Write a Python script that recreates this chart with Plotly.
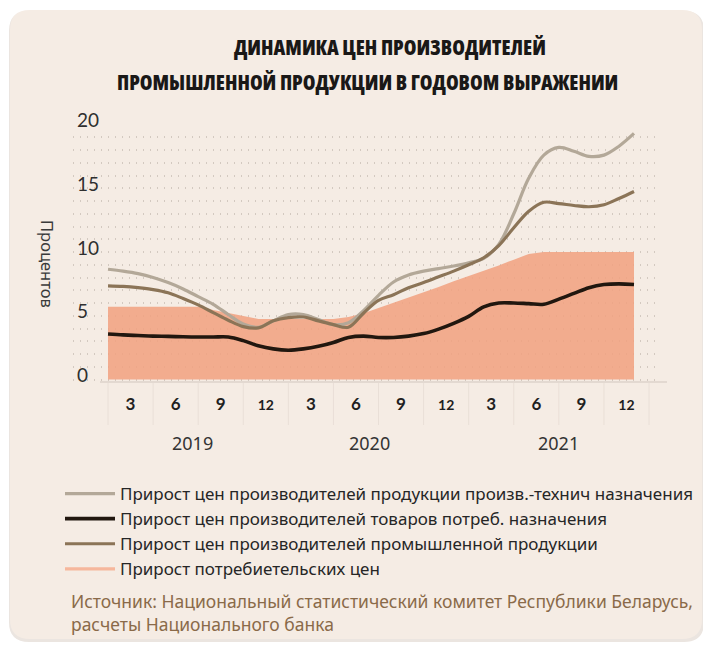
import plotly.graph_objects as go

# ---------------- data (monthly, Jan 2019 .. Dec 2021) ----------------
month = list(range(1, 37))
ppi_tech = [8.65, 8.5, 8.3, 8.0, 7.6, 7.1, 6.5, 5.9, 5.1, 4.35, 4.1, 4.6,
            5.1, 5.1, 4.7, 4.3, 4.45, 5.4, 6.6, 7.65, 8.2, 8.5, 8.7, 8.9,
            9.15, 9.5, 10.6, 13.0, 15.8, 17.6, 18.2, 17.9, 17.5, 17.6, 18.3, 19.3]
ppi_cons = [3.57, 3.5, 3.45, 3.4, 3.38, 3.35, 3.33, 3.33, 3.33, 3.05, 2.65, 2.4,
            2.3, 2.4, 2.6, 2.9, 3.3, 3.4, 3.3, 3.3, 3.4, 3.6, 3.95, 4.4,
            4.95, 5.7, 6.0, 6.0, 5.95, 5.9, 6.3, 6.75, 7.2, 7.45, 7.5, 7.45]
ppi_total = [7.35, 7.3, 7.2, 7.05, 6.8, 6.35, 5.85, 5.25, 4.65, 4.15, 4.05, 4.6,
             4.85, 4.9, 4.6, 4.3, 4.1, 5.2, 6.2, 6.65, 7.2, 7.6, 8.05, 8.5,
             9.0, 9.55, 10.5, 11.9, 13.2, 13.9, 13.8, 13.65, 13.55, 13.7, 14.2, 14.75]
cpi = [5.7, 5.7, 5.7, 5.7, 5.7, 5.7, 5.7, 5.45, 5.2, 4.95, 4.75, 4.75,
       4.75, 4.75, 4.75, 4.75, 4.9, 5.2, 5.6, 6.0, 6.4, 6.85, 7.25, 7.7,
       8.1, 8.5, 8.95, 9.4, 9.85, 10.0, 10.0, 10.0, 10.0, 10.0, 10.0, 10.0]

quarter_labels = ["3", "6", "9", "12"] * 3
years = ["2019", "2020", "2021"]
y_ticks = [0, 5, 10, 15, 20]

series_names = [
    "Прирост цен производителей продукции произв.-технич назначения",
    "Прирост цен производителей товаров потреб. назначения",
    "Прирост цен производителей промышленной продукции",
    "Прирост потребиетельских цен",
]
title_lines = ["ДИНАМИКА ЦЕН ПРОИЗВОДИТЕЛЕЙ",
               "ПРОМЫШЛЕННОЙ ПРОДУКЦИИ В ГОДОВОМ ВЫРАЖЕНИИ"]
source_lines = ["Источник: Национальный статистический комитет Республики Беларусь,",
                "расчеты Национального банка"]
y_title = "Процентов"

# ---------------- layout geometry ----------------
# the page body has an 8px margin, so the figure is drawn 8px smaller
OFF = 8
W, H = 711 - OFF, 649 - OFF
L, R, T, B = 73 - OFF, 51, 124 - OFF, 267
PW, PH = W - L - R, H - T - B


def pxx(x):
    """reference-image pixel x -> paper x"""
    return (x - OFF - L) / PW


def pxy(y):
    """reference-image pixel y -> paper y"""
    return (H - B - (y - OFF)) / PH


def rounded(x0, y0, x1, y1, r):
    pts = [("M", x0 + r, y0), ("L", x1 - r, y0), ("Q", x1, y0, x1, y0 + r),
           ("L", x1, y1 - r), ("Q", x1, y1, x1 - r, y1), ("L", x0 + r, y1),
           ("Q", x0, y1, x0, y1 - r), ("L", x0, y0 + r), ("Q", x0, y0, x0 + r, y0)]
    s = ""
    for p in pts:
        coords = p[1:]
        parts = [f"{pxx(coords[i]):.5f},{pxy(coords[i + 1]):.5f}"
                 for i in range(0, len(coords), 2)]
        s += p[0] + " " + " ".join(parts) + " "
    return s + "Z"


BG = "#f5ece4"
FONT = "Noto Sans, Open Sans, sans-serif"
TITLE_FONT = dict(family="Open Sans", size=20.5, color="#1a1817", weight=800)

fig = go.Figure()

# CPI filled area
fig.add_trace(go.Scatter(
    x=month, y=cpi, mode="lines", fill="tozeroy",
    fillcolor="rgba(241,161,128,0.86)", line=dict(width=0, color="rgba(0,0,0,0)"),
    showlegend=False, hoverinfo="skip"))

fig.add_trace(go.Scatter(
    x=month, y=ppi_tech, mode="lines", name=series_names[0], legendrank=1,
    line=dict(color="#b3a898", width=3.2, shape="spline", smoothing=1.0)))
fig.add_trace(go.Scatter(
    x=month, y=ppi_total, mode="lines", name=series_names[2], legendrank=3,
    line=dict(color="#8b7457", width=3.2, shape="spline", smoothing=1.0)))
fig.add_trace(go.Scatter(
    x=month, y=ppi_cons, mode="lines", name=series_names[1], legendrank=2,
    line=dict(color="#21170f", width=3.6, shape="spline", smoothing=1.0)))
# legend entry for CPI
fig.add_trace(go.Scatter(
    x=[None], y=[None], mode="lines", name=series_names[3], legendrank=4,
    line=dict(color="#f6b79c", width=3.2)))

shapes = [
    dict(type="path", xref="paper", yref="paper", layer="below",
         path=rounded(9, 11, 704, 642, 20), fillcolor="#ebe5e0", line=dict(width=0)),
    dict(type="path", xref="paper", yref="paper", layer="below",
         path=rounded(10, 10, 702, 639, 20), fillcolor=BG, line=dict(width=0)),
    dict(type="line", xref="paper", yref="paper", x0=pxx(100), x1=pxx(667),
         y0=0, y1=0, line=dict(color="#ddd3cb", width=1.5)),
]
# vertical separators in the quarter label band
for k in range(13):
    xv = 1 + 3 * k
    shapes.append(dict(type="line", xref="x", yref="paper", x0=xv, x1=xv,
                       y0=pxy(383), y1=pxy(425),
                       line=dict(color="#e9dfd7", width=1)))

annotations = [
    dict(text=f"<span style='font-stretch:75%'>{title_lines[0]}</span>",
         xref="paper", yref="paper",
         x=pxx(390), y=pxy(47), showarrow=False, xanchor="center", yanchor="middle",
         font=TITLE_FONT),
    dict(text=f"<span style='font-stretch:75%'>{title_lines[1]}</span>",
         xref="paper", yref="paper",
         x=pxx(368), y=pxy(82), showarrow=False, xanchor="center", yanchor="middle",
         font=TITLE_FONT),
    dict(text=y_title, xref="paper", yref="paper", x=pxx(48), y=pxy(264),
         showarrow=False, textangle=90, xanchor="center", yanchor="middle",
         font=dict(family=FONT, size=16.5, color="#3a3a3a")),
    dict(text=source_lines[0] + "<br>" + source_lines[1], xref="paper", yref="paper",
         x=pxx(69), y=pxy(612), showarrow=False, xanchor="left", yanchor="middle",
         align="left",
         font=dict(family=FONT, size=17.5, color="#8a6a49")),
]
year_x = [6.6, 18.4, 31.0]
for yr, xv in zip(years, year_x):
    annotations.append(dict(text=yr, xref="x", yref="paper", x=xv, y=pxy(443),
                            showarrow=False, xanchor="center", yanchor="middle",
                            font=dict(family=FONT, size=18, color="#333333")))

tick_text = []
for t in quarter_labels:
    if len(t) > 1:
        tick_text.append(f"<b><span style='font-size:14px'>{t}</span></b>")
    else:
        tick_text.append(f"<b>{t}</b>")

fig.update_layout(
    width=W, height=H,
    margin=dict(l=L, r=R, t=T, b=B, pad=0),
    paper_bgcolor="white", plot_bgcolor="rgba(0,0,0,0)",
    showlegend=True,
    legend=dict(x=pxx(60), y=pxy(476), xanchor="left", yanchor="top",
                bgcolor="rgba(0,0,0,0)", itemwidth=50, tracegroupgap=0,
                font=dict(family=FONT, size=17, color="#262626"),
                traceorder="normal"),
    shapes=shapes,
    annotations=annotations,
    xaxis=dict(range=[-1.33, 37.73], showgrid=False, zeroline=False, showline=False,
               tickmode="array", tickvals=[2.5 + 3 * k for k in range(12)],
               ticktext=tick_text, ticks="outside", ticklen=7,
               tickcolor="rgba(0,0,0,0)",
               tickfont=dict(family="Lato, Noto Sans, sans-serif", size=17, color="#1f1f1f")),
    yaxis=dict(range=[-0.196, 20.04], zeroline=False, showline=False,
               tickmode="array", tickvals=y_ticks,
               ticklabelposition="inside", ticklabelstandoff=1, ticklabelshift=-4,
               ticklabeloverflow="allow",
               tickfont=dict(family="Lato, Noto Sans, sans-serif", size=19, color="#2f2f2f"),
               showgrid=True, gridcolor="#d3c9c0", gridwidth=2, griddash="1px,6px",
               minor=dict(dtick=1, tick0=0, showgrid=True, gridcolor="#d3c9c0",
                          gridwidth=2, griddash="1px,6px")),
)

fig.write_html("out.html")
